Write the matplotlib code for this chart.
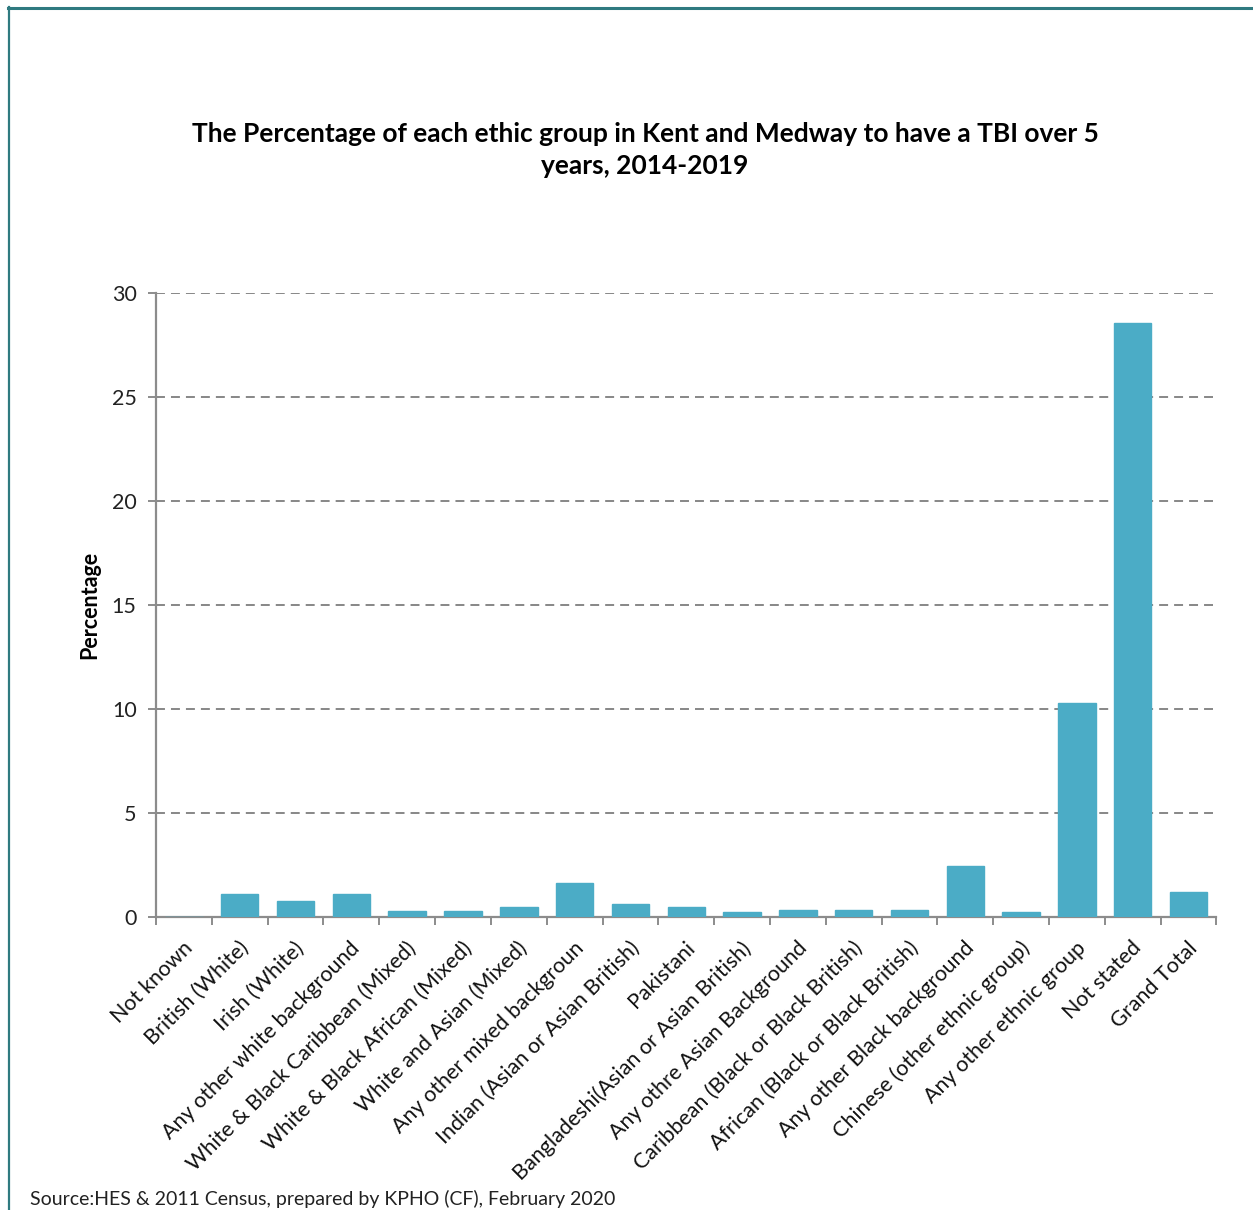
import numpy as np
import matplotlib
matplotlib.use("Agg")
import matplotlib.pyplot as plt
from matplotlib.lines import Line2D

plt.rcParams["font.family"] = ["Lato", "DejaVu Sans"]

groups = [
    "Not known",
    "British (White)",
    "Irish (White)",
    "Any other white background",
    "White & Black Caribbean (Mixed)",
    "White & Black African (Mixed)",
    "White and Asian (Mixed)",
    "Any other mixed backgroun",
    "Indian (Asian or Asian British)",
    "Pakistani",
    "Bangladeshi(Asian or Asian British)",
    "Any othre Asian Background",
    "Caribbean (Black or Black British)",
    "African (Black or Black British)",
    "Any other Black background",
    "Chinese (other ethnic group)",
    "Any other ethnic group",
    "Not stated",
    "Grand Total",
]
percentage = [0.0, 1.12, 0.79, 1.12, 0.28, 0.28, 0.46, 1.62, 0.63, 0.46,
              0.23, 0.35, 0.35, 0.35, 2.45, 0.23, 10.3, 28.55, 1.18]
yticks = [0, 5, 10, 15, 20, 25, 30]

title = ("The Percentage of each ethic group in Kent and Medway to have a TBI over 5\n"
         "years, 2014-2019")
source = "Source:HES & 2011 Census, prepared by KPHO (CF), February 2020"

W, H = 1253, 1210
fig = plt.figure(figsize=(W / 100, H / 100), dpi=100)
ax = fig.add_axes([156 / W, 1 - 917 / H, (1216.5 - 156) / W, (917 - 293) / H])

x = np.arange(len(groups))
ax.bar(x, percentage, width=0.67, color="#4BACC6", edgecolor="#4BACC6", zorder=3)

ax.set_xlim(-0.5, len(groups) - 0.5)
ax.set_ylim(0, 30)
ax.set_yticks(yticks)
ax.set_yticklabels([str(v) for v in yticks], fontsize=15.5, color="#222222")
ax.yaxis.grid(True, linestyle=(0, (4.6, 3.1)), color="#878787", linewidth=1.4, zorder=0)
ax.tick_params(axis="y", length=6, width=1.4, color="#8c8c8c", pad=8)

# category ticks sit between the bars, labels under the bar centres
ax.set_xticks(np.arange(len(groups) + 1) - 0.5, minor=False)
ax.set_xticklabels([])
ax.tick_params(axis="x", length=6, width=1.4, color="#8c8c8c")
for i, name in enumerate(groups):
    ax.annotate(name, xy=(i, 0), xycoords=("data", "axes fraction"),
                xytext=(-1, -15), textcoords="offset points",
                rotation=45, ha="right", va="top", rotation_mode="anchor",
                fontsize=15.5, color="#111111")

for side in ["top", "right"]:
    ax.spines[side].set_visible(False)
for side in ["left", "bottom"]:
    ax.spines[side].set_color("#8c8c8c")
    ax.spines[side].set_linewidth(1.6)

ax.set_ylabel("Percentage", fontsize=15.5, fontweight="bold", labelpad=8)

fig.text(645 / W, 1 - 150 / H, title, ha="center", va="center",
         fontsize=19, fontweight="bold", linespacing=1.45)
fig.text(30 / W, 1 - 1199 / H, source, ha="left", va="center",
         fontsize=14, color="#222222")

# outer frame
fig.add_artist(Line2D([8 / W, 1], [1 - 7.5 / H, 1 - 7.5 / H],
                      color="#2F7A80", linewidth=2.2, transform=fig.transFigure))
fig.add_artist(Line2D([8.5 / W, 8.5 / W], [0, 1 - 7 / H],
                      color="#2F7A80", linewidth=1.6, transform=fig.transFigure))

fig.savefig("out.png", dpi=100)
